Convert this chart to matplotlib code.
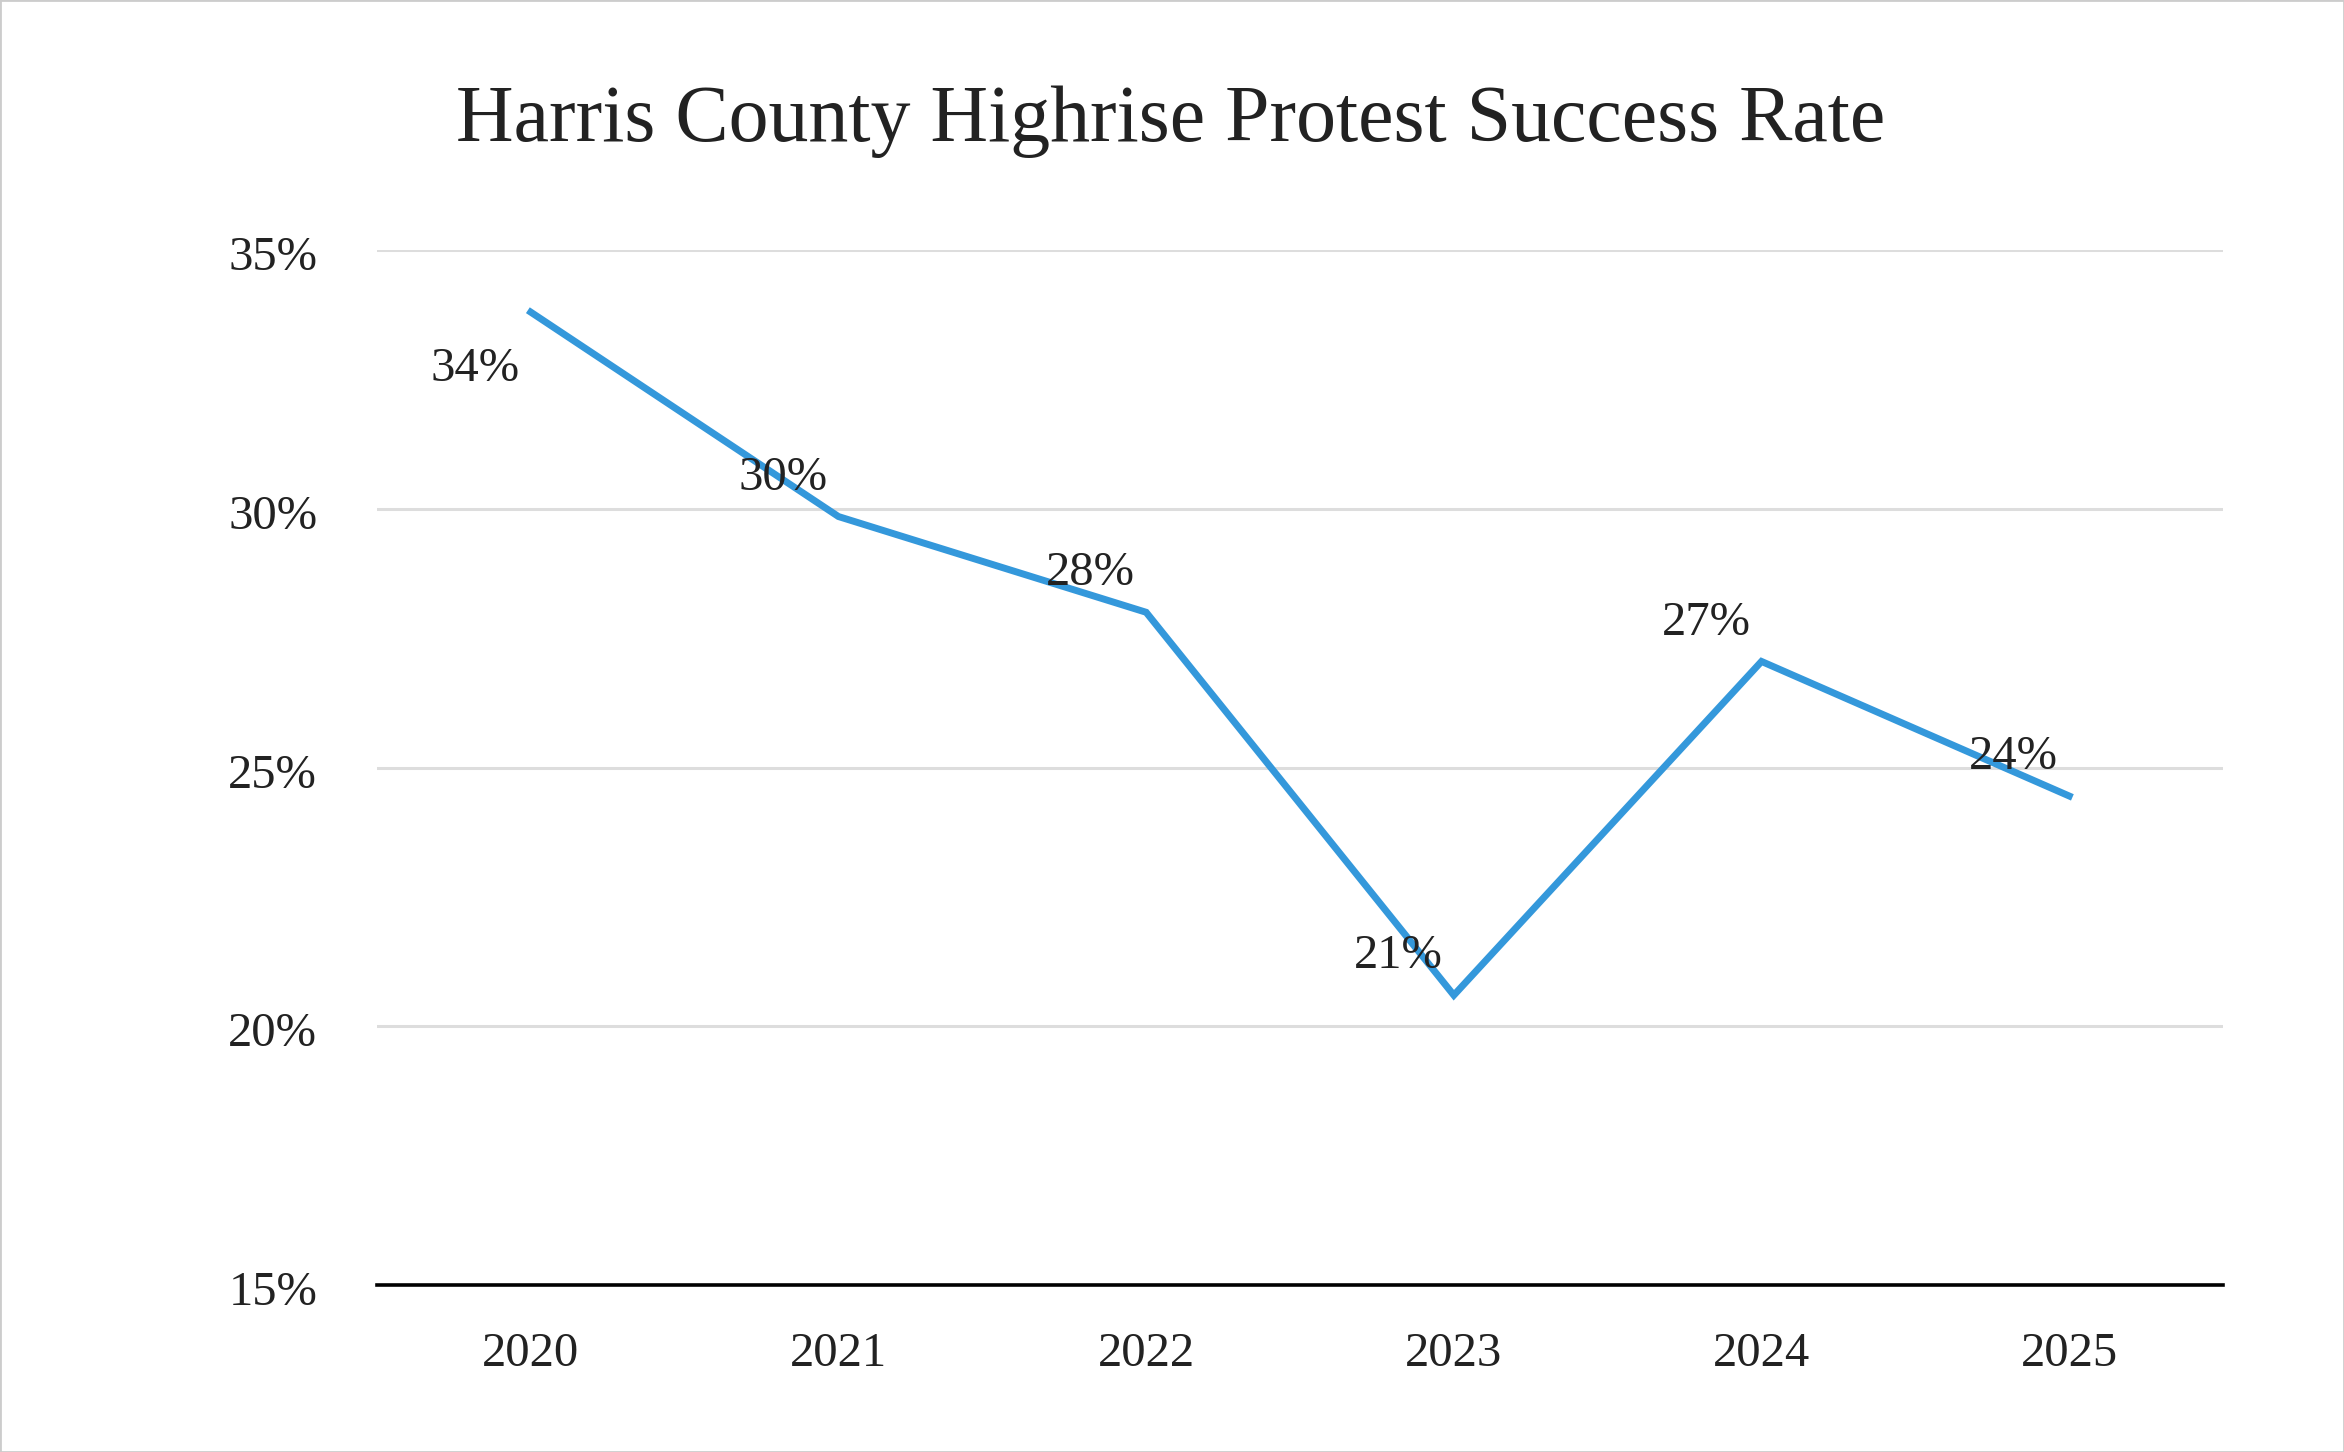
"""Harris County highrise protest success rate, line chart."""

import matplotlib

matplotlib.use("Agg")
import matplotlib.pyplot as plt
import matplotlib.transforms as mtransforms
from matplotlib.patches import Rectangle
from matplotlib.ticker import FuncFormatter

YEARS = ["2020", "2021", "2022", "2023", "2024", "2025"]
SUCCESS_RATE = [33.8, 29.85, 28.0, 20.6, 27.05, 24.45]
POINT_LABELS = ["34%", "30%", "28%", "21%", "27%", "24%"]
Y_TICKS = [15, 20, 25, 30, 35]

TEXT_COLOR = "#222222"
LINE_COLOR = "#3498db"

plt.rcParams["font.family"] = ["Liberation Serif", "DejaVu Serif"]

fig = plt.figure(figsize=(23.44, 14.52), dpi=100)
ax = fig.add_axes([0.1608, 0.1150, 0.7876, 0.7128])

x = list(range(len(YEARS)))
ax.plot(x, SUCCESS_RATE, color=LINE_COLOR, linewidth=5, solid_joinstyle="miter",
        clip_on=False, zorder=3)

for i, (xv, yv, text) in enumerate(zip(x, SUCCESS_RATE, POINT_LABELS)):
    dy = -41 if i == 0 else 28
    ax.annotate(text, (xv, yv), xytext=(-40, dy), textcoords="offset points",
                ha="center", va="center", fontsize=35, color=TEXT_COLOR, zorder=4)

ax.set_xlim(-0.5, len(YEARS) - 0.5)
ax.set_ylim(15, 35)
ax.set_xticks(x)
ax.set_xticklabels(YEARS)
ax.set_yticks(Y_TICKS)
ax.yaxis.set_major_formatter(FuncFormatter(lambda v, _: f"{v:.0f}%"))
ax.tick_params(axis="both", length=0, labelsize=35, labelcolor=TEXT_COLOR)
ax.tick_params(axis="y", pad=43)
ax.tick_params(axis="x", pad=34)
shift_down = mtransforms.ScaledTranslation(0, -3 / 100, fig.dpi_scale_trans)
for lbl in ax.get_yticklabels():
    lbl.set_verticalalignment("center_baseline")
    lbl.set_transform(lbl.get_transform() + shift_down)

ax.grid(axis="y", color="#dddddd", linewidth=2.2)
ax.set_axisbelow(True)
for side in ("top", "right", "left"):
    ax.spines[side].set_visible(False)
ax.spines["bottom"].set_color("black")
ax.spines["bottom"].set_linewidth(2.6)
ax.spines["bottom"].set_zorder(5)

fig.text(0.4996, 1 - 141 / 1452, "Harris County Highrise Protest Success Rate",
         ha="center", va="baseline", fontsize=57.5, color=TEXT_COLOR)

fig.patches.append(Rectangle((0, 0), 1, 1, transform=fig.transFigure, fill=False,
                             edgecolor="#cccccc", linewidth=2))

fig.savefig("out.png", dpi=100)
